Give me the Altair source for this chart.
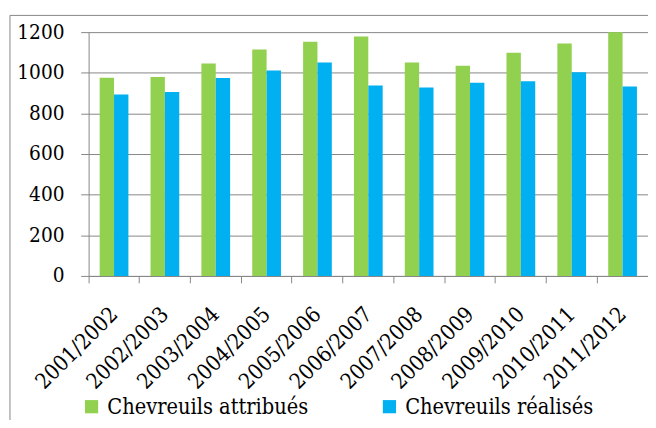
import altair as alt
import pandas as pd

saisons = ["2001/2002", "2002/2003", "2003/2004", "2004/2005", "2005/2006",
           "2006/2007", "2007/2008", "2008/2009", "2009/2010", "2010/2011", "2011/2012"]
attribues = [975, 979, 1045, 1114, 1153, 1179, 1051, 1034, 1098, 1144, 1200]
realises = [893, 905, 974, 1011, 1051, 937, 927, 951, 958, 1003, 932]
series = ["Chevreuils attribués", "Chevreuils réalisés"]
couleurs = ["#92D050", "#00B0F0"]
y_ticks = [0, 200, 400, 600, 800, 1000, 1200]

rows = []
for s, a, r in zip(saisons, attribues, realises):
    rows.append({"saison": s, "serie": series[0], "valeur": a})
    rows.append({"saison": s, "serie": series[1], "valeur": r})
df = pd.DataFrame(rows)

FONT = "DejaVu Serif Condensed, DejaVu Serif"
GRAY = "#868686"
W = 569
H = 248

bars = alt.Chart(df).mark_bar().encode(
    x=alt.X("saison:N", sort=saisons,
            scale=alt.Scale(paddingInner=0, paddingOuter=0),
            axis=alt.Axis(title=None, bandPosition=0,
                          labelAngle=-45, labelAlign="right", labelBaseline="middle",
                          tickSize=7, labelPadding=28, labelFontSize=22,
                          labelFont=FONT, labelColor="black",
                          domainColor=GRAY, tickColor=GRAY, grid=False)),
    xOffset=alt.XOffset("serie:N", sort=series,
                        scale=alt.Scale(paddingOuter=0.77, paddingInner=0)),
    y=alt.Y("valeur:Q", scale=alt.Scale(domain=[0, 1200], nice=False),
            axis=alt.Axis(title=None, values=y_ticks, format="d", tickSize=8,
                          labelPadding=17, labelFontSize=21, labelFont=FONT,
                          labelColor="black", domainColor=GRAY, tickColor=GRAY,
                          gridColor=GRAY, gridOpacity=1, grid=True)),
    color=alt.Color("serie:N", sort=series,
                    scale=alt.Scale(domain=series, range=couleurs),
                    legend=alt.Legend(title=None, orient="none", legendX=-8, legendY=370,
                                      direction="horizontal", columnPadding=71,
                                      symbolType="square", symbolSize=180,
                                      symbolStrokeWidth=0, labelFontSize=22,
                                      labelFont=FONT, labelColor="black",
                                      labelOffset=5, labelLimit=400)),
)

border = alt.Chart(pd.DataFrame({"a": [0]})).mark_rect(
    filled=False, stroke=GRAY, strokeWidth=1
).encode(x=alt.value(-80), x2=alt.value(800), y=alt.value(-17), y2=alt.value(600))

chart = alt.layer(border, bars).properties(
    width=W, height=H,
    autosize=alt.AutoSizeParams(type="none"),
    padding={"left": 82, "top": 21, "right": 0, "bottom": 143},
).configure_view(strokeWidth=0)

chart.save("out.html", embed_options={"renderer": "svg", "actions": False})
